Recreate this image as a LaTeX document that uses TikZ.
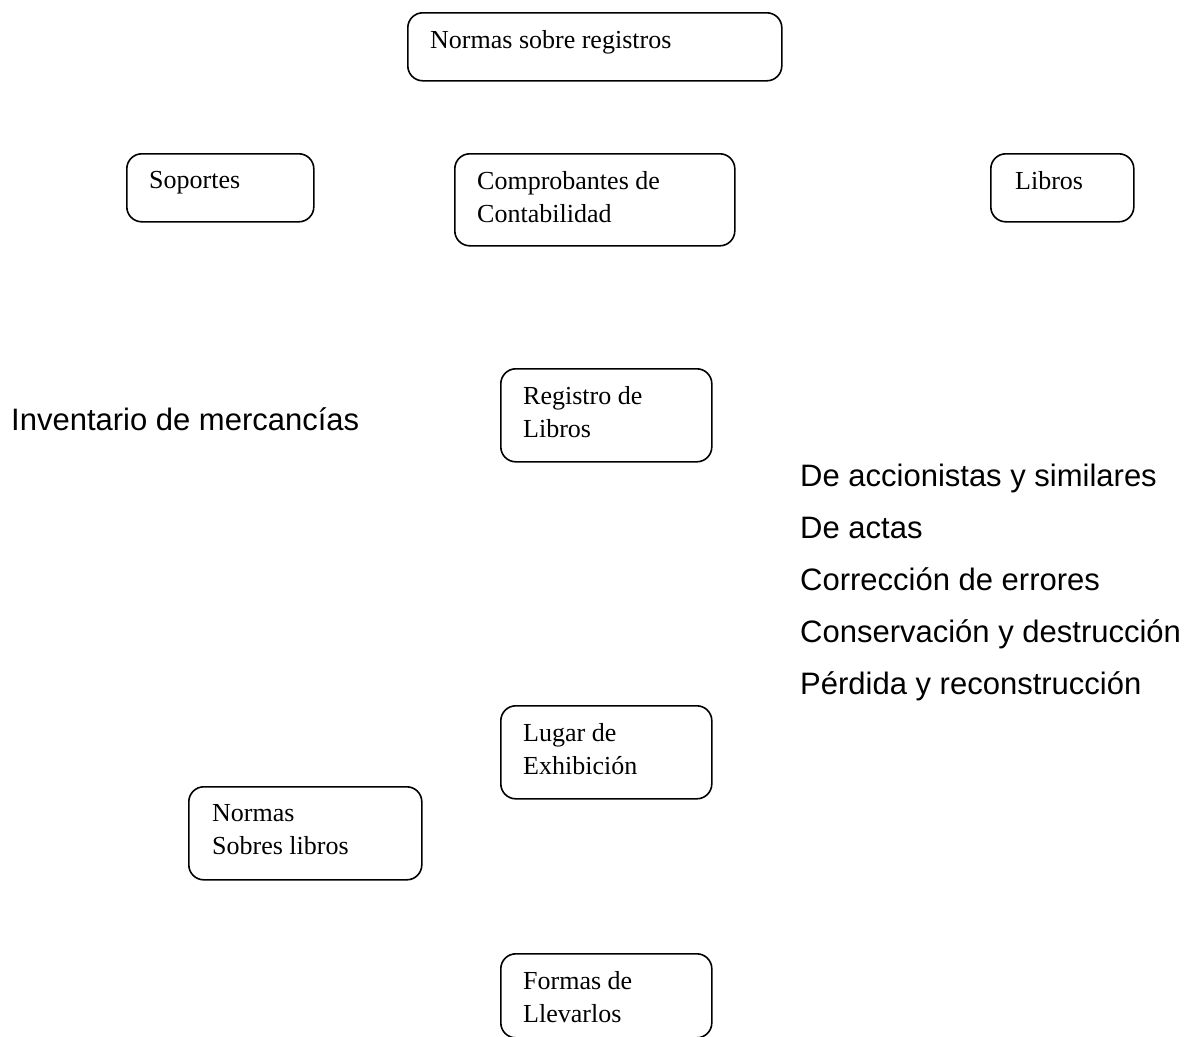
\documentclass[tikz,border=0pt]{standalone}
\usepackage{fontspec}
\setmainfont{Liberation Serif}
\newfontfamily\arialfont{Liberation Sans}
\usepackage{tikz}
\usetikzlibrary{positioning}

\newcommand{\boxfont}{\fontsize{26pt}{33pt}\selectfont}
\newcommand{\listfont}{\arialfont\fontsize{31pt}{37pt}\selectfont}

\tikzset{
  regbox/.style={draw, rounded corners=15pt, line width=1.6pt, anchor=north west, inner sep=0pt},
  boxtext/.style={inner sep=0pt, align=left, font=\boxfont},
  listtext/.style={anchor=base west, inner sep=0pt, font=\listfont},
}

\begin{document}
\begin{tikzpicture}[x=1pt, y=-1pt, node distance=18pt and 23pt]
\useasboundingbox (0,0) rectangle (1185,1036);

% cajas
\node[regbox, minimum width=374pt, minimum height=68pt] (normreg) at (407,12) {};
\node[regbox, minimum width=187pt, minimum height=68pt] (soportes) at (126,153) {};
\node[regbox, minimum width=280pt, minimum height=92pt] (comprob) at (454,153) {};
\node[regbox, minimum width=143pt, minimum height=68pt] (libros) at (990,153) {};
\node[regbox, minimum width=211pt, minimum height=93pt] (reglib) at (500,368) {};
\node[regbox, minimum width=211pt, minimum height=93pt] (lugar) at (500,705) {};
\node[regbox, minimum width=233pt, minimum height=93pt] (normlib) at (188,786) {};
\node[regbox, minimum width=211pt, minimum height=84pt] (formas) at (500,953) {};

% textos de las cajas
\node[boxtext, below right=of normreg.north west] (normregtxt) {Normas sobre registros};
\node[boxtext, below right=of soportes.north west] (soportestxt) {Soportes};
\node[boxtext, below right=of comprob.north west] (comprobtxt) {Comprobantes de\\Contabilidad};
\node[boxtext, below right=18pt and 25pt of libros.north west] (librostxt) {Libros};
\node[boxtext, below right=of reglib.north west] (reglibtxt) {Registro de\\Libros};
\node[boxtext, below right=of lugar.north west] (lugartxt) {Lugar de\\Exhibición};
\node[boxtext, below right=18pt and 24pt of normlib.north west] (normlibtxt) {Normas\\Sobres libros};
\node[boxtext, below right=of formas.north west] (formastxt) {Formas de\\Llevarlos};

% textos sueltos
\node[listtext] (inventario) at (11,430) {Inventario de mercancías};
\node[listtext] (accion) at (800,486) {De accionistas y similares};
\node[listtext] (actas) at (800,538) {De actas};
\node[listtext] (correc) at (800,590) {Corrección de errores};
\node[listtext] (conserv) at (800,642) {Conservación y destrucción};
\node[listtext] (perdida) at (800,694) {Pérdida y reconstrucción};
\end{tikzpicture}
\end{document}
